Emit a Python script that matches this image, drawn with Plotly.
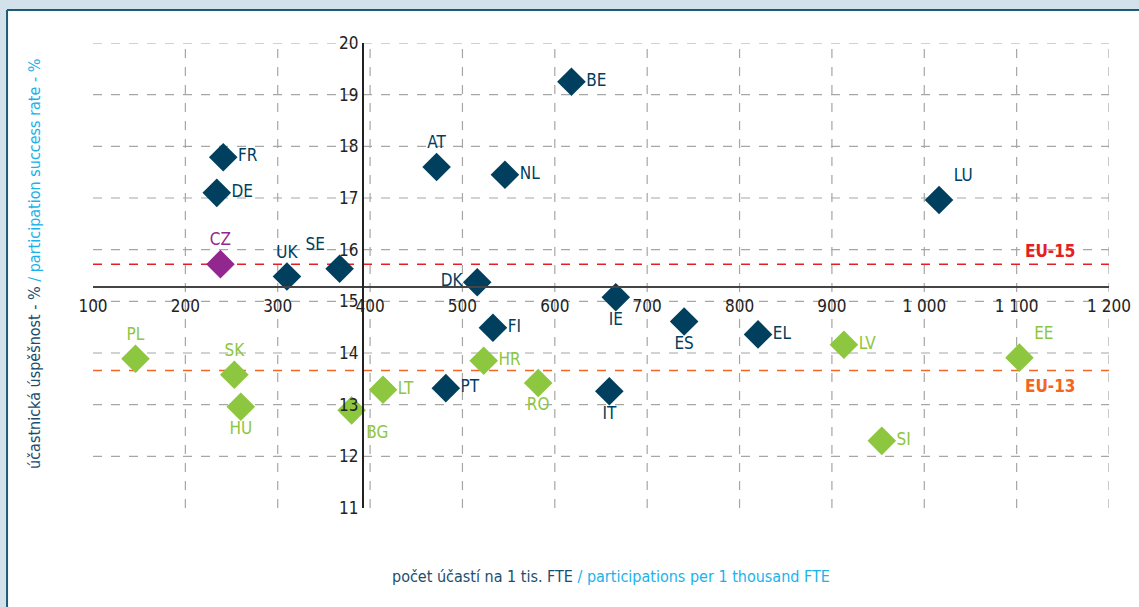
import plotly.graph_objects as go

FONT = "Liberation Sans Narrow, DejaVu Sans Condensed, Roboto, sans-serif"
TEAL = "#00405e"
GREEN = "#8dc63f"
PURPLE = "#92278f"
RED = "#e31e24"
ORANGE = "#f26522"

# EU-15 countries
eu15_codes = ["FR", "DE", "UK", "SE", "AT", "NL", "BE", "DK", "LU", "IE", "FI", "ES", "EL", "PT", "IT"]
eu15_x = [241, 234, 310, 367, 472, 546, 618, 516, 1016, 666, 533, 740, 820, 482, 659]
eu15_y = [17.79, 17.10, 15.48, 15.63, 17.60, 17.45, 19.25, 15.37, 16.96, 15.08, 14.49, 14.61, 14.36, 13.32, 13.26]
eu15_pos = ["middle right", "middle right", "top center", "top left", "top center", "middle right",
            "middle right", "middle left", "top right", "bottom center", "middle right",
            "bottom center", "middle right", "middle right", "bottom center"]

# EU-13 countries (without CZ)
eu13_codes = ["PL", "SK", "HU", "BG", "LT", "HR", "RO", "LV", "EE", "SI"]
eu13_x = [146, 253, 260, 380, 414, 523, 582, 913, 1103, 954]
eu13_y = [13.89, 13.58, 12.96, 12.89, 13.29, 13.85, 13.42, 14.16, 13.91, 12.30]
eu13_pos = ["top center", "top center", "bottom center", "bottom right", "middle right",
            "middle right", "bottom center", "middle right", "top right", "middle right"]

cz_code = ["CZ"]
cz_x = [238]
cz_y = [15.72]

# averages
eu15_avg = 15.72
eu13_avg = 13.66
cross_x = 392
cross_y = 15.28

x_range = [100, 1200]
y_range = [11, 20]
x_ticks = [100, 200, 300, 400, 500, 600, 700, 800, 900, 1000, 1100, 1200]
x_ticktext = ["100", "200", "300", "400", "500", "600", "700", "800", "900", "1 000", "1 100", "1 200"]
y_ticks = [11, 12, 13, 14, 15, 16, 17, 18, 19, 20]
x_grid = x_ticks[1:]
y_grid = y_ticks[1:]

LABEL_SIZE = 17

fig = go.Figure()

fig.add_trace(go.Scatter(
    x=eu15_x, y=eu15_y, text=eu15_codes, mode="markers+text", textposition=eu15_pos,
    marker={"symbol": "diamond", "size": 22, "color": TEAL},
    textfont={"color": TEAL, "size": LABEL_SIZE, "family": FONT}, cliponaxis=False,
))
fig.add_trace(go.Scatter(
    x=eu13_x, y=eu13_y, text=eu13_codes, mode="markers+text", textposition=eu13_pos,
    marker={"symbol": "diamond", "size": 22, "color": GREEN},
    textfont={"color": GREEN, "size": LABEL_SIZE, "family": FONT}, cliponaxis=False,
))
fig.add_trace(go.Scatter(
    x=cz_x, y=cz_y, text=cz_code, mode="markers+text", textposition="top center",
    marker={"symbol": "diamond", "size": 22, "color": PURPLE},
    textfont={"color": PURPLE, "size": LABEL_SIZE, "family": FONT}, cliponaxis=False,
))

# white panel with border
fig.add_shape(type="rect", xref="paper", yref="paper", x0=-0.0846, x1=1.2, y0=-0.4, y1=1.071,
              fillcolor="white", line={"width": 0}, layer="below")
fig.add_shape(type="line", xref="paper", yref="paper", x0=-0.0846, x1=1.2, y0=1.071, y1=1.071,
              line={"color": "#1d5a78", "width": 2}, layer="below")
fig.add_shape(type="line", xref="paper", yref="paper", x0=-0.0846, x1=-0.0846, y0=-0.4, y1=1.071,
              line={"color": "#1d5a78", "width": 2}, layer="below")

# grid
for v in x_grid:
    fig.add_shape(type="line", x0=v, x1=v, y0=0, y1=1, yref="paper", layer="below",
                  line={"color": "#a6a6a6", "width": 1.2, "dash": "dash"})
for v in y_grid:
    fig.add_shape(type="line", x0=0, x1=1, xref="paper", y0=v, y1=v, layer="below",
                  line={"color": "#a6a6a6", "width": 1.2, "dash": "dash"})

# averages
fig.add_shape(type="line", x0=0, x1=1, xref="paper", y0=eu15_avg, y1=eu15_avg, layer="below",
              line={"color": RED, "width": 1.5, "dash": "dash"})
fig.add_shape(type="line", x0=0, x1=1, xref="paper", y0=eu13_avg, y1=eu13_avg, layer="below",
              line={"color": ORANGE, "width": 1.5, "dash": "dash"})
fig.add_annotation(x=1137, y=eu15_avg, text="<b>EU-15</b>", showarrow=False, yanchor="bottom",
                   yshift=1, font={"color": RED, "size": 17, "family": FONT})
fig.add_annotation(x=1137, y=eu13_avg, text="<b>EU-13</b>", showarrow=False, yanchor="top",
                   yshift=-3, font={"color": ORANGE, "size": 17, "family": FONT})

# axis titles
fig.add_annotation(
    x=-0.057, y=0.525, xref="paper", yref="paper", textangle=-90, showarrow=False,
    xanchor="center", yanchor="middle",
    text="účastnická úspěšnost - % <span style='color:#1ab2ea'>/ participation success rate - %</span>",
    font={"color": "#1a4e6e", "size": 16, "family": FONT},
)
fig.add_annotation(
    x=0.51, y=-0.148, xref="paper", yref="paper", showarrow=False,
    xanchor="center", yanchor="middle",
    text="počet účastí na 1 tis. FTE <span style='color:#1ab2ea'>/ participations per 1 thousand FTE</span>",
    font={"color": "#1a4e6e", "size": 16, "family": FONT},
)

fig.update_layout(
    width=1139, height=607,
    margin={"l": 93, "r": 30, "t": 43, "b": 99},
    paper_bgcolor="#d3e2ea", plot_bgcolor="rgba(0,0,0,0)",
    showlegend=False,
    font={"family": FONT, "size": 17, "color": "#222222"},
    xaxis={
        "range": x_range, "tickvals": x_ticks, "ticktext": x_ticktext, "showgrid": False,
        "zeroline": False, "showline": True, "linecolor": "#444444", "linewidth": 2,
        "anchor": "free", "position": (cross_y - y_range[0]) / (y_range[1] - y_range[0]),
        "ticks": "", "ticklabelstandoff": 4, "tickfont": {"size": 17, "color": "#222222"},
        "automargin": False,
    },
    yaxis={
        "range": y_range, "tickvals": y_ticks, "showgrid": False,
        "zeroline": False, "showline": True, "linecolor": "#222222", "linewidth": 1.5,
        "anchor": "free", "position": (cross_x - x_range[0]) / (x_range[1] - x_range[0]),
        "ticks": "", "tickfont": {"size": 17, "color": "#222222"}, "automargin": False,
    },
)

# no page margin around the figure
fig.write_html("out.html", config={"displayModeBar": False},
               post_script="document.body.style.margin = '0';")
